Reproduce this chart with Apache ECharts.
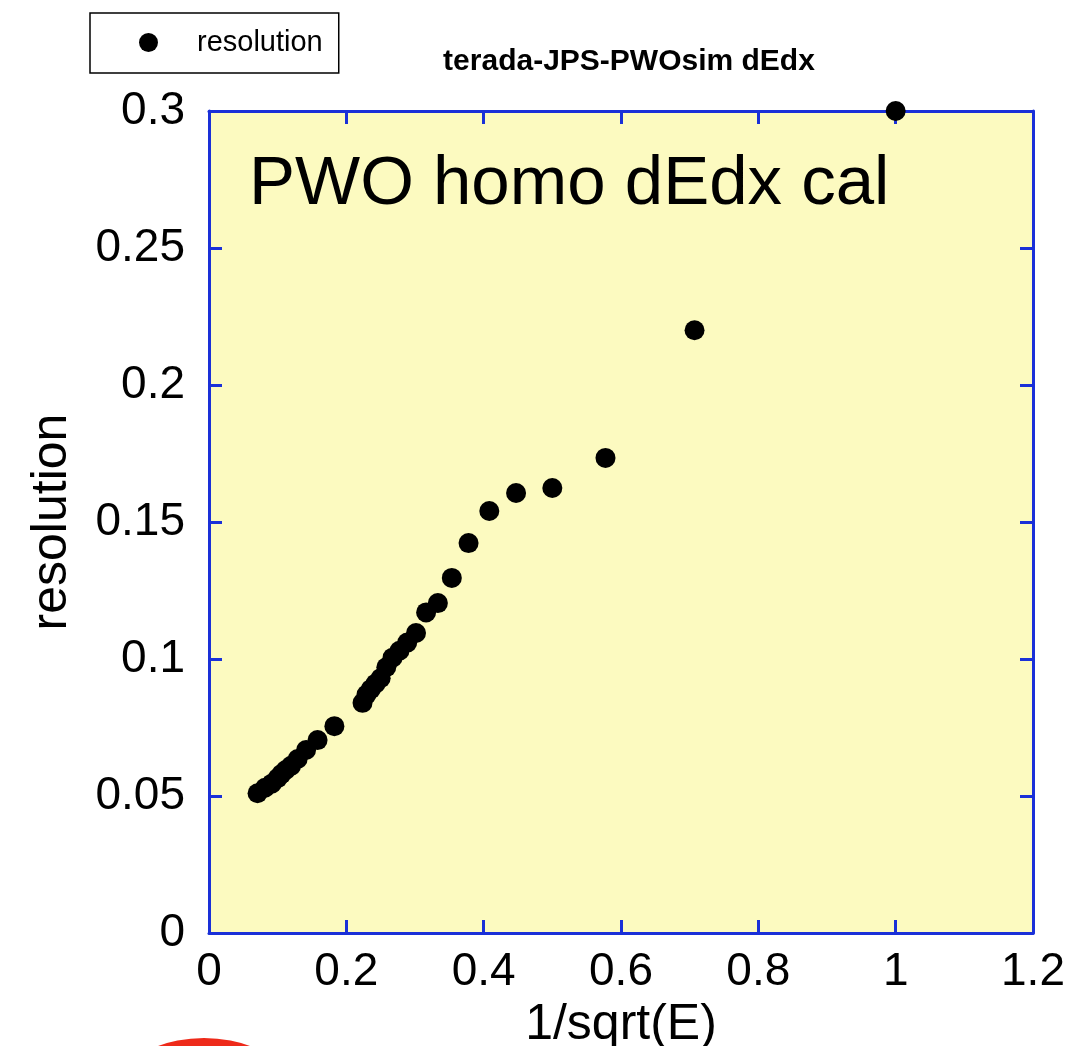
<!DOCTYPE html>
<html>
<head>
<meta charset="utf-8">
<script src="https://cdn.jsdelivr.net/npm/echarts@6/dist/echarts.min.js"></script>
<style>
html,body{margin:0;padding:0;background:#fff;}
#chart{width:1079px;height:1046px;}
</style>
</head>
<body>
<div id="chart"></div>
<script>
// 1/sqrt(E) values
var invSqrtE = [1.0, 0.7071, 0.5774, 0.5, 0.4472, 0.4082, 0.378, 0.3536, 0.3333, 0.3162,
  0.3015, 0.2887, 0.2774, 0.2673, 0.2582, 0.25, 0.2425, 0.2357, 0.2294, 0.2236,
  0.1826, 0.1581, 0.1414, 0.1291, 0.1195, 0.1118, 0.1054, 0.1, 0.0913, 0.0816, 0.0707];
// resolution values
var resolution = [0.300, 0.220, 0.1734, 0.1624, 0.1606, 0.154, 0.1423, 0.1296, 0.1204, 0.117,
  0.1095, 0.106, 0.103, 0.1005, 0.097, 0.093, 0.091, 0.089, 0.087, 0.084,
  0.0755, 0.0704, 0.0668, 0.0635, 0.061, 0.0595, 0.058, 0.0565, 0.0545, 0.053, 0.051];
var seriesName = 'resolution';
var titleText = 'terada-JPS-PWOsim dEdx';
var noteText = 'PWO homo dEdx cal';
var xName = '1/sqrt(E)';
var yName = 'resolution';

var points = invSqrtE.map(function (x, i) { return [x, resolution[i]]; });

var blue = '#1a30d8';
var font = '"Liberation Sans", Helvetica, Arial, sans-serif';
var chart = echarts.init(document.getElementById('chart'));

function xLabel(v) { return String(Math.round(v * 10) / 10); }
function yLabel(v) { return String(Math.round(v * 100) / 100); }

var axisCommonX = {
  type: 'value', min: 0, max: 1.2, interval: 0.2,
  axisLine: { show: true, onZero: false, lineStyle: { color: blue, width: 3 } },
  axisTick: { show: true, inside: true, length: 13, lineStyle: { color: blue, width: 3 } },
  splitLine: { show: false }
};
var axisCommonY = {
  type: 'value', min: 0, max: 0.3, interval: 0.05,
  axisLine: { show: true, onZero: false, lineStyle: { color: blue, width: 3 } },
  axisTick: { show: true, inside: true, length: 13, lineStyle: { color: blue, width: 3 } },
  splitLine: { show: false }
};

chart.setOption({
  animation: false,
  title: {
    text: titleText,
    left: 624, top: 42, textAlign: 'center',
    textStyle: { fontFamily: font, fontWeight: 'bold', fontSize: 30, color: '#000' }
  },
  legend: {
    data: [seriesName],
    left: 90, top: 13,
    orient: 'horizontal',
    backgroundColor: '#fff',
    borderColor: '#000', borderWidth: 1.5, borderRadius: 0,
    padding: [15, 16, 16, 49],
    itemWidth: 19, itemHeight: 19,
    icon: 'circle',
    textStyle: { fontFamily: font, fontSize: 29, color: '#000', padding: [0, 0, 0, 34] }
  },
  grid: {
    left: 209, right: 46, top: 111, bottom: 113,
    containLabel: false, outerBoundsMode: 'none',
    show: true, backgroundColor: '#fcfac0', borderWidth: 0
  },
  xAxis: [
    Object.assign({}, axisCommonX, {
      position: 'bottom',
      name: xName, nameLocation: 'middle', nameGap: 63,
      nameTextStyle: { fontFamily: font, fontSize: 50, color: '#000' },
      axisLabel: { show: true, margin: 16, fontFamily: font, fontSize: 46, color: '#000', formatter: xLabel }
    }),
    Object.assign({}, axisCommonX, {
      position: 'top',
      axisLabel: { show: false }
    })
  ],
  yAxis: [
    Object.assign({}, axisCommonY, {
      position: 'left',
      name: yName, nameLocation: 'middle', nameGap: 132,
      nameTextStyle: { fontFamily: font, fontSize: 50, color: '#000' },
      axisLabel: { show: true, margin: 24, fontFamily: font, fontSize: 46, color: '#000', formatter: yLabel }
    }),
    Object.assign({}, axisCommonY, {
      position: 'right',
      axisLabel: { show: false }
    })
  ],
  series: [{
    name: seriesName,
    type: 'scatter',
    xAxisIndex: 0, yAxisIndex: 0,
    symbol: 'circle', symbolSize: 20,
    itemStyle: { color: '#000', opacity: 1 },
    data: points,
    clip: false
  }],
  graphic: [
    {
      type: 'text', left: 249, top: 150,
      style: { text: noteText, fontFamily: font, fontSize: 69, fill: '#000' }
    },
    {
      type: 'circle', shape: { cx: 204, cy: 1174, r: 136 },
      style: { fill: '#ee2a1a' }, silent: true
    }
  ]
});
</script>
</body>
</html>
